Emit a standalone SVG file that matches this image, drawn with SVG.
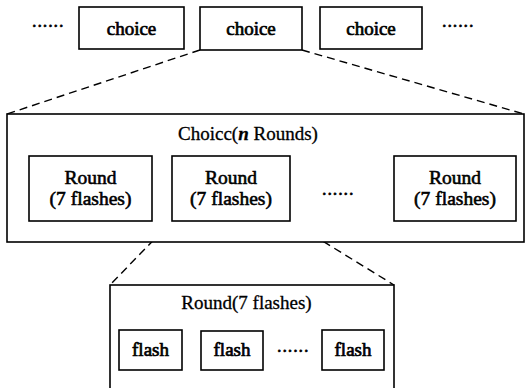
<svg xmlns="http://www.w3.org/2000/svg" width="529" height="388" viewBox="0 0 529 388">
  <style>
    .box { fill: #fff; stroke: #000; stroke-width: 1.6; }
    .link { fill: none; stroke: #000; stroke-width: 1.4; stroke-dasharray: 8 5; }
    .lbl { font-family: "Liberation Serif", "Times New Roman", serif; font-size: 19px; text-anchor: middle; fill: #000; stroke: #000; stroke-width: 0.7; }
    .lbl2 { font-family: "Liberation Serif", "Times New Roman", serif; font-size: 19.5px; text-anchor: middle; fill: #000; stroke: #000; stroke-width: 0.6; }
    .ttl { font-family: "Liberation Serif", "Times New Roman", serif; font-size: 19px; text-anchor: middle; fill: #000; stroke: #000; stroke-width: 0.3; }
    .dots { font-family: "Liberation Serif", "Times New Roman", serif; font-size: 18px; fill: #000; stroke: #000; stroke-width: 0.6; letter-spacing: 0.9px; }
  </style>
  <rect width="529" height="388" fill="#fff"/>

  <!-- zoom-in connectors -->
  <g id="connectors">
    <line class="link" x1="200" y1="50" x2="7" y2="114"/>
    <line class="link" x1="302" y1="50" x2="524" y2="114"/>
    <line class="link" x1="172" y1="221" x2="110" y2="285"/>
    <line class="link" x1="290" y1="221" x2="394" y2="285"/>
  </g>

  <!-- top row of choices -->
  <text class="dots" x="32" y="27">......</text>
  <g id="choice1">
    <rect class="box" x="79" y="7" width="105" height="42"/>
    <text class="lbl" x="131.5" y="35">choice</text>
  </g>
  <g id="choice2">
    <rect class="box" x="200" y="7" width="102" height="43"/>
    <text class="lbl" x="251" y="35">choice</text>
  </g>
  <g id="choice3">
    <rect class="box" x="320" y="7" width="102" height="42"/>
    <text class="lbl" x="371" y="35">choice</text>
  </g>
  <text class="dots" x="442" y="27">......</text>

  <!-- one choice expanded into rounds -->
  <g id="choice-detail">
    <rect class="box" x="7" y="114" width="517" height="128" fill="none"/>
    <text class="ttl" x="248" y="140">Choicc(<tspan font-weight="bold" font-style="italic">n</tspan> Rounds)</text>
  </g>
  <g id="round1">
    <rect class="box" x="29" y="156" width="123" height="65"/>
    <text class="lbl2" x="90.5" y="184">Round</text>
    <text class="lbl2" x="90.5" y="205">(7 flashes)</text>
  </g>
  <g id="round2">
    <rect class="box" x="172" y="156" width="118" height="65"/>
    <text class="lbl2" x="231" y="184">Round</text>
    <text class="lbl2" x="231" y="205">(7 flashes)</text>
  </g>
  <text class="dots" x="322" y="195">......</text>
  <g id="round3">
    <rect class="box" x="394" y="156" width="122" height="65"/>
    <text class="lbl2" x="455" y="184">Round</text>
    <text class="lbl2" x="455" y="205">(7 flashes)</text>
  </g>

  <!-- one round expanded into flashes -->
  <g id="round-detail">
    <rect class="box" x="110" y="285" width="284" height="120"/>
    <text class="ttl" x="246.5" y="309">Round(7 flashes)</text>
  </g>
  <g id="flash1">
    <rect class="box" x="119" y="330" width="63" height="40"/>
    <text class="lbl" x="150.5" y="356">flash</text>
  </g>
  <g id="flash2">
    <rect class="box" x="201" y="331" width="62" height="39"/>
    <text class="lbl" x="232" y="356">flash</text>
  </g>
  <text class="dots" x="277" y="352">......</text>
  <g id="flash3">
    <rect class="box" x="322" y="330" width="62" height="40"/>
    <text class="lbl" x="353" y="356">flash</text>
  </g>
</svg>
